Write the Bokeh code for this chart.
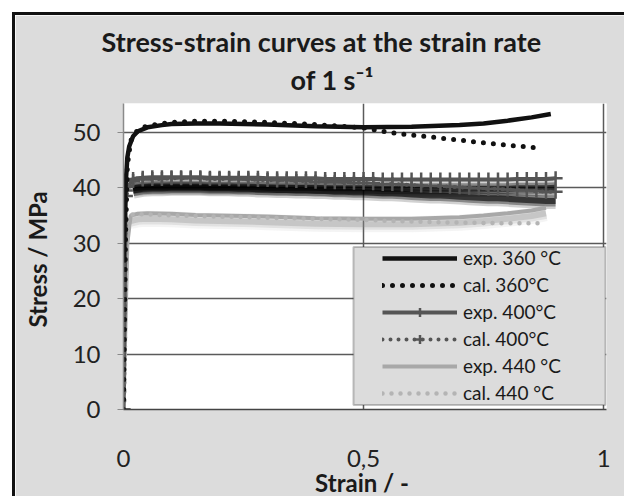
from bokeh.plotting import figure
from bokeh.models import (Legend, LegendItem, BoxAnnotation, FixedTicker,
                          Range1d, Title)
from bokeh.embed import file_html
from bokeh.resources import INLINE

# ---------------- data ----------------
strain_exp360 = [0.0, 0.004, 0.008, 0.012, 0.02, 0.03, 0.05, 0.08, 0.10, 0.15,
                 0.20, 0.30, 0.40, 0.50, 0.60, 0.70, 0.75, 0.80, 0.85, 0.89]
stress_exp360 = [26.5, 40.0, 45.5, 47.5, 49.3, 50.2, 50.9, 51.3, 51.5, 51.6,
                 51.6, 51.4, 51.1, 50.9, 51.0, 51.3, 51.6, 52.1, 52.7, 53.3]

strain_cal360 = [0.0, 0.004, 0.008, 0.015, 0.03, 0.05, 0.10, 0.15, 0.20, 0.30,
                 0.40, 0.50, 0.56, 0.60, 0.69, 0.75, 0.80, 0.87]
stress_cal360 = [0.0, 30.0, 44.0, 48.5, 50.5, 51.2, 51.8, 52.0, 52.0, 51.8,
                 51.4, 50.8, 49.9, 49.5, 48.7, 48.1, 47.7, 47.1]

strain_400 = [0.0, 0.005, 0.02, 0.04, 0.06, 0.08, 0.10, 0.12, 0.14, 0.16,
              0.18, 0.20, 0.22, 0.24, 0.26, 0.28, 0.30, 0.32, 0.34, 0.36,
              0.38, 0.40, 0.42, 0.44, 0.46, 0.48, 0.50, 0.52, 0.54, 0.56,
              0.58, 0.60, 0.62, 0.64, 0.66, 0.68, 0.70, 0.72, 0.74, 0.76,
              0.78, 0.80, 0.82, 0.84, 0.86, 0.88, 0.90]
stress_exp400 = [0.0, 39.5, 41.6, 41.8, 41.9, 41.9, 41.9, 41.9, 41.9, 41.9,
                 41.8, 41.8, 41.8, 41.8, 41.8, 41.8, 41.7, 41.7, 41.7, 41.7,
                 41.7, 41.7, 41.6, 41.6, 41.6, 41.6, 41.6, 41.6, 41.5, 41.5,
                 41.5, 41.5, 41.5, 41.5, 41.5, 41.5, 41.5, 41.5, 41.5, 41.5,
                 41.5, 41.5, 41.6, 41.6, 41.6, 41.6, 41.7]
stress_cal400 = [0.0, 38.5, 41.2, 41.5, 41.6, 41.6, 41.7, 41.7, 41.7, 41.7,
                 41.6, 41.6, 41.6, 41.5, 41.5, 41.4, 41.4, 41.3, 41.3, 41.2,
                 41.2, 41.1, 41.1, 41.0, 41.0, 40.9, 40.9, 40.8, 40.7, 40.7,
                 40.6, 40.5, 40.4, 40.3, 40.3, 40.2, 40.1, 40.0, 39.9, 39.8,
                 39.8, 39.7, 39.6, 39.5, 39.4, 39.3, 39.3]

strain_exp440 = [0.0, 0.008, 0.015, 0.03, 0.05, 0.10, 0.15, 0.20, 0.30, 0.40,
                 0.50, 0.60, 0.70, 0.75, 0.80, 0.85, 0.88]
stress_exp440 = [0.0, 30.0, 35.0, 35.3, 35.4, 35.3, 35.1, 35.0, 34.8, 34.5,
                 34.4, 34.4, 34.7, 35.0, 35.4, 35.9, 36.4]

strain_cal440 = [0.002, 0.004, 0.008, 0.02, 0.05, 0.10, 0.20, 0.30, 0.40, 0.50,
                 0.60, 0.70, 0.80, 0.87]
stress_cal440 = [0.0, 20.0, 34.6, 35.2, 35.2, 35.0, 34.8, 34.6, 34.4, 34.2,
                 33.9, 33.7, 33.6, 33.6]

labels = ["exp. 360 °C", "cal. 360°C", "exp. 400°C", "cal. 400°C",
          "exp. 440 °C", "cal. 440 °C"]
title_lines = ["Stress-strain curves at the strain rate", "of 1 s\u207b\u00b9"]
y_ticks = [0, 10, 20, 30, 40, 50]
x_ticks = [0, 0.5, 1]
x_tick_labels = {0: "0", 0.5: "0,5", 1: "1"}
shadow_offset = 1.7

FONT = "Lato"
BG = "#dcdcdc"
DARK = "#555555"
LIGHT = "#a8a8a8"

p = figure(width=612, height=484, output_backend="svg", toolbar_location=None,
           x_range=Range1d(0, 1.006), y_range=Range1d(0, 55.2),
           min_border_left=108, min_border_right=21, min_border_top=88,
           min_border_bottom=84, margin=(12, 0, 0, 12))
p.styles = {"border-left": "3px solid #111111", "border-top": "3px solid #111111"}
p.border_fill_color = BG
p.background_fill_color = "white"
p.outline_line_color = None

# title: two lines (the later one added is placed on top)
p.add_layout(Title(text=title_lines[1], align="left", offset=167,
                   text_font=FONT, text_font_size="27px",
                   text_font_style="bold", text_color="#1a1a1a",
                   standoff=16), "above")
p.add_layout(Title(text=title_lines[0], align="left", offset=-22,
                   text_font=FONT, text_font_size="27px",
                   text_font_style="bold", text_color="#1a1a1a",
                   standoff=-11), "above")

# axes
p.yaxis.ticker = FixedTicker(ticks=y_ticks)
p.xaxis.ticker = FixedTicker(ticks=x_ticks)
p.xaxis.major_label_overrides = x_tick_labels
for ax in (p.xaxis, p.yaxis):
    ax.major_label_text_font = FONT
    ax.major_label_text_font_size = "24px"
    ax.major_label_text_color = "#222222"
    ax.axis_label_text_font = FONT
    ax.axis_label_text_font_size = "24px"
    ax.axis_label_text_font_style = "bold"
    ax.axis_label_text_color = "#1a1a1a"
    ax.minor_tick_line_color = None
p.yaxis.axis_label = "Stress  / MPa"
p.xaxis.axis_label = "Strain  / -"
p.yaxis.axis_line_color = "#8a8a8a"
p.yaxis.axis_line_width = 1.5
p.yaxis.major_tick_line_color = "#8a8a8a"
p.yaxis.major_tick_out = 6
p.yaxis.major_tick_in = 0
p.yaxis.major_label_standoff = 17
p.yaxis.axis_label_standoff = 18
p.xaxis.axis_line_color = "#444444"
p.xaxis.axis_line_width = 1.5
p.xaxis.major_tick_line_color = None
p.xaxis.major_label_standoff = 34
p.xaxis.axis_label_standoff = -2

p.ygrid.grid_line_color = "#5a5a5a"
p.ygrid.grid_line_width = 1.5
p.xgrid.grid_line_color = "#5a5a5a"
p.xgrid.grid_line_width = 1.5

# shadows (blurred look)
sh_exp400 = [v - shadow_offset for v in stress_exp400]
sh_cal400 = [v - shadow_offset for v in stress_cal400]
sh_exp440 = [v - 1.0 for v in stress_exp440]
for w, a in ((16, 0.18), (11, 0.35), (6, 0.6)):
    p.line(strain_400[2:], sh_exp400[2:], line_color="black", line_width=w, line_alpha=a)
    p.line(strain_400[2:], sh_cal400[2:], line_color="black", line_width=w, line_alpha=a)
    p.line(strain_exp440[2:], sh_exp440[2:], line_color="#888888", line_width=w, line_alpha=a * 0.5)

# series
r_e440 = p.line(strain_exp440, stress_exp440, line_color=LIGHT, line_width=4)
r_c440 = p.line(strain_cal440, stress_cal440, line_color="#b4b4b4", line_width=4.5,
                line_dash="0 9", line_cap="round")
r_e400 = p.line(strain_400, stress_exp400, line_color=DARK, line_width=4)
m_e400 = p.scatter(strain_400, stress_exp400, marker="cross", size=14,
                   line_color=DARK, line_width=2.5)
r_c400 = p.line(strain_400, stress_cal400, line_color=DARK, line_width=4,
                line_dash="0 8", line_cap="round")
m_c400 = p.scatter(strain_400, stress_cal400, marker="cross", size=14,
                   line_color=DARK, line_width=2.5)
r_c360 = p.line(strain_cal360, stress_cal360, line_color="#111111", line_width=5,
                line_dash="0 10", line_cap="round")
r_e360 = p.line(strain_exp360, stress_exp360, line_color="#111111", line_width=4.5)

# legend box
p.add_layout(BoxAnnotation(left=0.479, right=1.004, top=29.3, bottom=0.8,
                           fill_color=BG, fill_alpha=1, line_color="#3a3a3a",
                           line_width=2, level="annotation"))

items = [LegendItem(label=labels[0], renderers=[r_e360]),
         LegendItem(label=labels[1], renderers=[r_c360]),
         LegendItem(label=labels[2], renderers=[r_e400, m_e400]),
         LegendItem(label=labels[3], renderers=[r_c400, m_c400]),
         LegendItem(label=labels[4], renderers=[r_e440]),
         LegendItem(label=labels[5], renderers=[r_c440])]
legend = Legend(items=items, location=(259, 5), padding=0, spacing=4,
                glyph_width=75, glyph_height=22, label_height=22,
                label_standoff=6, background_fill_alpha=0,
                border_line_color=None, label_text_font=FONT,
                label_text_font_size="19px", label_text_color="#1a1a1a")
p.add_layout(legend, "center")

open("out.html", "w").write(file_html(p, INLINE))
